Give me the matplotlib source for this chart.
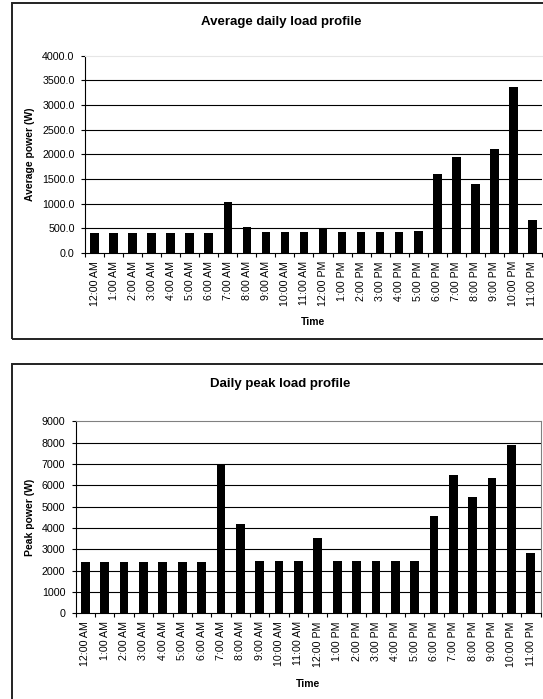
import numpy as np
import matplotlib
matplotlib.use('Agg')
import matplotlib.pyplot as plt
from matplotlib.patches import Rectangle

plt.rcParams['font.family'] = ['Liberation Sans', 'DejaVu Sans']

# Datos
horas = ['12:00 AM', '1:00 AM', '2:00 AM', '3:00 AM', '4:00 AM', '5:00 AM',
         '6:00 AM', '7:00 AM', '8:00 AM', '9:00 AM', '10:00 AM', '11:00 AM',
         '12:00 PM', '1:00 PM', '2:00 PM', '3:00 PM', '4:00 PM', '5:00 PM',
         '6:00 PM', '7:00 PM', '8:00 PM', '9:00 PM', '10:00 PM', '11:00 PM']
potencia_media = [408, 408, 408, 408, 408, 408, 408, 1025, 535, 425, 425, 425,
                  505, 425, 425, 425, 425, 440, 1600, 1935, 1405, 2115, 3355, 660]
potencia_pico = [2400, 2400, 2400, 2400, 2400, 2400, 2400, 6970, 4180, 2440, 2440, 2440,
                 3550, 2440, 2440, 2440, 2440, 2470, 4570, 6460, 5470, 6330, 7870, 2810]
ticks_media = [0, 500, 1000, 1500, 2000, 2500, 3000, 3500, 4000]
ticks_pico = [0, 1000, 2000, 3000, 4000, 5000, 6000, 7000, 8000, 9000]

W, H = 543, 699
fig = plt.figure(figsize=(W / 100, H / 100), dpi=100)

# Marcos de cada gráfica (se salen del borde derecho/inferior)
fig.patches.append(Rectangle((11.7 / W, 1 - 339 / H), 1.0, 336 / H, transform=fig.transFigure,
                             fill=False, edgecolor='#222222', linewidth=1.4))
fig.patches.append(Rectangle((11.7 / W, -0.05), 1.0, (699 - 364) / H + 0.05, transform=fig.transFigure,
                             fill=False, edgecolor='#222222', linewidth=1.4))


def dibujar(ax, valores, yticks, fmt, ylabel, top_color, right_color, xlabelpad):
    x = np.arange(len(horas))
    ax.bar(x, valores, width=0.45, color='black', zorder=3)
    ax.set_xlim(-0.5, len(horas) - 0.5)
    ax.set_ylim(yticks[0], yticks[-1])
    ax.set_yticks(yticks)
    ax.set_yticklabels([fmt.format(v) for v in yticks])
    for v in yticks[1:-1]:
        ax.axhline(v, color='black', linewidth=0.8, zorder=1)
    ax.set_xticks(x)
    ax.set_xticklabels(horas, rotation=90, va='top', ha='center')
    ax.set_xticks(np.arange(-0.5, len(horas) + 0.5, 1), minor=True)
    ax.tick_params(axis='x', which='major', length=0, pad=5.8, labelsize=7.7)
    ax.tick_params(axis='x', which='minor', length=3, width=0.8, direction='out')
    ax.tick_params(axis='y', length=3, width=0.8, pad=4.5, labelsize=7.7)
    ax.spines['left'].set_linewidth(0.8)
    ax.spines['bottom'].set_linewidth(0.8)
    ax.spines['top'].set_color(top_color)
    ax.spines['right'].set_color(right_color)
    ax.set_ylabel(ylabel, fontsize=7.5, fontweight='bold', labelpad=5)
    ax.set_xlabel('Time', fontsize=7.5, fontweight='bold', labelpad=xlabelpad)
    ax.set_facecolor('none')


ax1 = fig.add_axes([85 / W, 1 - 253 / H, (542 - 85) / W, (253 - 55.5) / H])
dibujar(ax1, potencia_media, ticks_media, '{:.1f}', 'Average power (W)',
        '#e6e6e6', 'none', 7.5)
fig.text(281 / W, 1 - 22 / H, 'Average daily load profile', ha='center', va='center',
         fontsize=9.5, fontweight='bold')

ax2 = fig.add_axes([75.7 / W, 1 - 613.3 / H, (540.5 - 75.7) / W, (613.3 - 421.3) / H])
dibujar(ax2, potencia_pico, ticks_pico, '{:d}', 'Peak power (W)',
        '#808080', '#808080', 9)
fig.text(280 / W, 1 - 384 / H, 'Daily peak load profile', ha='center', va='center',
         fontsize=9.5, fontweight='bold')

fig.savefig('out.png', dpi=100)
